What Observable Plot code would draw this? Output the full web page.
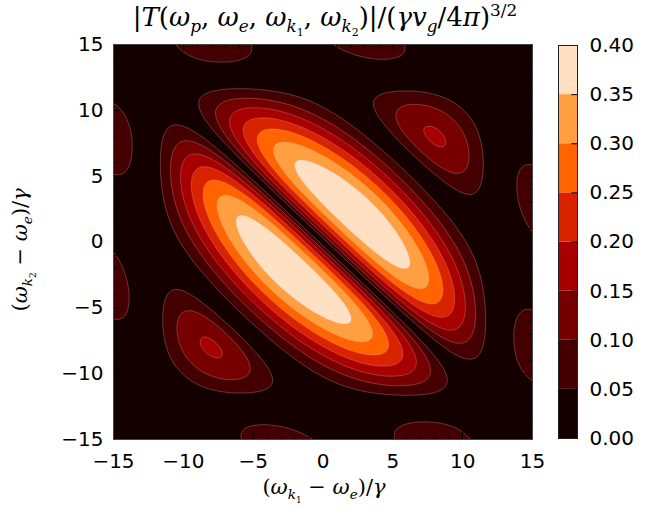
<!DOCTYPE html>
<html><head><meta charset="utf-8">
<script src="https://cdn.jsdelivr.net/npm/d3@7"></script>
<script src="https://cdn.jsdelivr.net/npm/@observablehq/plot@0.6"></script>
<style>
body{margin:0;background:#fff;}
#wrap{position:relative;width:666px;height:510px;font-family:"DejaVu Sans",sans-serif;overflow:hidden;}
#wrap svg{position:absolute;top:0;}
.math{font-family:"DejaVu Serif",serif;position:absolute;white-space:nowrap;color:#000;line-height:1;}
.math i{font-style:italic;}
.math sub,.math sup{font-size:65%;}
</style></head><body><div id="wrap"></div>
<script>
// ---- data ----
const levels = [0, 0.05, 0.1, 0.15, 0.2, 0.25, 0.3, 0.35, 0.4];
const levelColors = ["#150000","#440000","#760000","#a80000","#d92200","#ff6400","#ff9f40","#ffe0c2"];
const axisTicks = [-15, -10, -5, 0, 5, 10, 15];
const axisDomain = [-15, 15];
// band structure along (x+y)/2 : zero lines and lobe amplitudes
const bandEdges = [0, 6.2, 11.5, 17];
const bandAmp = [0.728, 0.3636, 0.10];
const bandDecay = [0.2136, 0, 0];
const bandWidthD = [1e9, 8.1, 8.1];
// envelope along each frequency axis
const edgeZero = [12.4];
const edgePower = [1.55];
const outerLobe = [0.7];

function env(u) {
  const a = Math.abs(u) / edgeZero[0];
  const v = Math.cos(Math.PI / 2 * Math.pow(a, edgePower[0]));
  return a > 1 ? outerLobe[0] * v : v;
}
function field(x, y) {
  const s = Math.abs(x + y) / 2, d = (x - y) / 2;
  let k = 0;
  while (k < bandEdges.length - 2 && s > bandEdges[k + 1]) k++;
  const e0 = bandEdges[k], e1 = bandEdges[k + 1];
  const ph = Math.PI * (s - e0) / (e1 - e0);
  return bandAmp[k] * Math.exp(-bandDecay[k] * s) * Math.exp(-Math.pow(d / bandWidthD[k], 2)) *
    Math.abs(Math.sin(ph)) * Math.abs(env(x) * env(y));
}

const fmt = d => (d < 0 ? "\u2212" + Math.abs(d) : String(d));
const minor = d3.range(-15, 16, 1).filter(t => t % 5 !== 0);
const colorScale = {type: "threshold", domain: levels.slice(1, 8), range: levelColors};

const main = Plot.plot({
  width: 666, height: 510,
  marginLeft: 113, marginRight: 134, marginTop: 44, marginBottom: 71,
  style: {fontFamily: "DejaVu Sans, sans-serif", fontSize: "20px", background: "transparent", color: "#000"},
  x: {domain: axisDomain, ticks: axisTicks, tickFormat: fmt, tickSize: 0, tickPadding: 14, label: null},
  y: {domain: axisDomain, ticks: axisTicks, tickFormat: fmt, tickSize: 0, tickPadding: 10, label: null},
  color: colorScale,
  marks: [
    Plot.contour({fill: field, x1: -15, y1: -15, x2: 15, y2: 15, thresholds: levels.slice(0, 8)}),
    Plot.contour({fill: field, fillOpacity: 0, stroke: "#e8a0a0", strokeOpacity: 0.55, strokeWidth: 0.6,
      x1: -15, y1: -15, x2: 15, y2: 15, thresholds: levels.slice(1, 8)}),
    Plot.ruleX(minor, {x: d => d, y1: -15, y2: -14.7, stroke: "#000"}),
    Plot.ruleX(minor, {x: d => d, y1: 15, y2: 14.7, stroke: "#000"}),
    Plot.ruleX(axisTicks, {x: d => d, y1: -15, y2: -14.45, stroke: "#000"}),
    Plot.ruleX(axisTicks, {x: d => d, y1: 15, y2: 14.45, stroke: "#000"}),
    Plot.ruleY(minor, {y: d => d, x1: -15, x2: -14.72, stroke: "#000"}),
    Plot.ruleY(minor, {y: d => d, x1: 15, x2: 14.72, stroke: "#000"}),
    Plot.ruleY(axisTicks, {y: d => d, x1: -15, x2: -14.48, stroke: "#000"}),
    Plot.ruleY(axisTicks, {y: d => d, x1: 15, x2: 14.48, stroke: "#000"}),
    Plot.frame({stroke: "#444"})
  ]
});

const bands = levels.slice(0, 8).map((lo, i) => ({lo, hi: levels[i + 1]}));
const bar = Plot.plot({
  width: 126, height: 510,
  marginLeft: 18, marginRight: 89, marginTop: 45, marginBottom: 72,
  style: {fontFamily: "DejaVu Sans, sans-serif", fontSize: "20px", background: "transparent", color: "#000"},
  x: {domain: [0, 1], axis: null},
  y: {domain: [0, 0.4], axis: "right", ticks: levels, tickFormat: d => d.toFixed(2), tickSize: 0, tickPadding: 12, label: null},
  color: colorScale,
  marks: [
    Plot.rect(bands, {x1: 0, x2: 1, y1: "lo", y2: "hi", fill: "lo"}),
    Plot.ruleY(levels.slice(1, 8), {x1: 0.7, x2: 1, stroke: "#000"}),
    Plot.frame({stroke: "#222"})
  ]
});

const wrap = document.getElementById("wrap");
main.style.left = "0px";
bar.style.left = "540px";
wrap.appendChild(main);
wrap.appendChild(bar);

function addMath(html, css) {
  const el = document.createElement("div");
  el.className = "math";
  el.innerHTML = html;
  Object.assign(el.style, css);
  wrap.appendChild(el);
  return el;
}
addMath('|<i>T</i>(<i>ω</i><sub><i>p</i></sub>, <i>ω</i><sub><i>e</i></sub>, <i>ω</i><sub><i>k</i><sub>1</sub></sub>, <i>ω</i><sub><i>k</i><sub>2</sub></sub>)|/(<i>γv</i><sub><i>g</i></sub>/4<i>π</i>)<sup>3/2</sup>',
  {left: "0px", width: "650px", textAlign: "center", top: "2px", fontSize: "26px"});
addMath('(<i>ω</i><sub><i>k</i><sub>1</sub></sub> − <i>ω</i><sub><i>e</i></sub>)/<i>γ</i>',
  {left: "0px", width: "648px", textAlign: "center", top: "477px", fontSize: "21px"});
addMath('(<i>ω</i><sub><i>k</i><sub>2</sub></sub> − <i>ω</i><sub><i>e</i></sub>)/<i>γ</i>',
  {left: "-76px", width: "200px", textAlign: "center", top: "236px", fontSize: "21px", transform: "rotate(-90deg)"});
</script></body></html>
